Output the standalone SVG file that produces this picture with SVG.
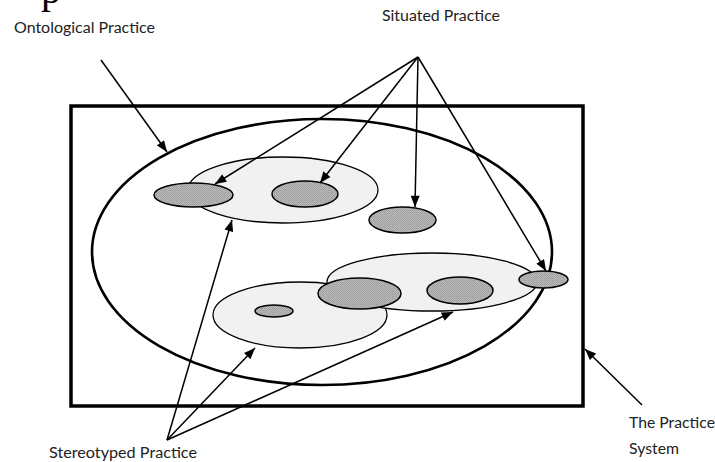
<svg xmlns="http://www.w3.org/2000/svg" width="715" height="462" viewBox="0 0 715 462">
  <style>
    .label { font-family: Lato, "Open Sans", "Liberation Sans", sans-serif; font-size: 15.5px; fill: #222; }
    .frame { fill: none; stroke: #000; stroke-width: 3.5; }
    .onto { fill: #fff; stroke: #000; stroke-width: 2.6; }
    .light { fill: #f1f1f1; stroke: #000; stroke-width: 1.3; }
    .dark { fill: url(#grain); stroke: #000; stroke-width: 1.5; }
    .conn { fill: none; stroke: #000; stroke-width: 1.5; marker-end: url(#head); }
  </style>
  <defs>
    <pattern id="grain" width="2" height="2" patternUnits="userSpaceOnUse">
      <rect width="2" height="2" fill="#b8b8b8"/>
      <rect width="1" height="1" fill="#9c9c9c"/>
      <rect x="1" y="1" width="1" height="1" fill="#a8a8a8"/>
    </pattern>
    <marker id="head" viewBox="0 0 10 8" refX="10" refY="4" markerWidth="12" markerHeight="9" markerUnits="userSpaceOnUse" orient="auto">
      <path d="M0,0 L10,4 L0,8 Z" fill="#000"/>
    </marker>
  </defs>

  <!-- cut-off heading glyph at the top edge -->
  <text x="41" y="3" font-family="'Liberation Serif', serif" font-size="40" fill="#000">p</text>

  <!-- The practice system frame -->
  <g id="practice-system">
    <rect class="frame" x="71" y="106" width="512" height="300"/>
  </g>

  <!-- Ontological practice -->
  <g id="ontological-practice">
    <ellipse class="onto" cx="322" cy="252" rx="230" ry="133"/>
  </g>

  <!-- Upper cluster -->
  <g id="cluster-top">
    <ellipse class="light" cx="283" cy="190" rx="95" ry="33"/>
    <ellipse class="dark" cx="193.5" cy="195" rx="39.5" ry="12"/>
    <ellipse class="dark" cx="305" cy="194" rx="33" ry="13"/>
  </g>

  <!-- Single situated practice -->
  <g id="situated-single">
    <ellipse class="dark" cx="402.5" cy="220" rx="33.5" ry="13"/>
  </g>

  <!-- Lower clusters -->
  <g id="cluster-lower-left">
    <ellipse class="light" cx="300" cy="315" rx="87" ry="33"/>
    <ellipse class="dark" cx="274" cy="311" rx="19" ry="6"/>
  </g>
  <g id="cluster-lower-right">
    <ellipse class="light" cx="432" cy="282" rx="105" ry="29"/>
    <ellipse class="dark" cx="359.5" cy="293.5" rx="41.5" ry="15.5"/>
    <ellipse class="dark" cx="460" cy="290.5" rx="33" ry="13.5"/>
  </g>

  <!-- Situated practice on the boundary -->
  <g id="situated-edge">
    <ellipse class="dark" cx="543.5" cy="279.5" rx="24.5" ry="8.5"/>
  </g>

  <!-- Connectors -->
  <g id="connectors">
    <line class="conn" x1="101" y1="60" x2="167" y2="152"/>
    <line class="conn" x1="418" y1="57" x2="215" y2="184"/>
    <line class="conn" x1="418" y1="57" x2="320" y2="183"/>
    <line class="conn" x1="418" y1="57" x2="415" y2="207"/>
    <line class="conn" x1="418" y1="57" x2="546" y2="271"/>
    <line class="conn" x1="167" y1="440" x2="232" y2="220"/>
    <line class="conn" x1="167" y1="440" x2="255" y2="348"/>
    <line class="conn" x1="167" y1="440" x2="453" y2="312"/>
    <line class="conn" x1="642" y1="405" x2="585" y2="349"/>
  </g>

  <!-- Labels -->
  <g id="labels">
    <text class="label" x="14" y="33" textLength="141" lengthAdjust="spacingAndGlyphs">Ontological Practice</text>
    <text class="label" x="382" y="21" textLength="118" lengthAdjust="spacingAndGlyphs">Situated Practice</text>
    <text class="label" x="49" y="458" textLength="148" lengthAdjust="spacingAndGlyphs">Stereotyped Practice</text>
    <text class="label" x="629" y="428" textLength="86" lengthAdjust="spacingAndGlyphs">The Practice</text>
    <text class="label" x="629" y="454" textLength="50" lengthAdjust="spacingAndGlyphs">System</text>
  </g>
</svg>
